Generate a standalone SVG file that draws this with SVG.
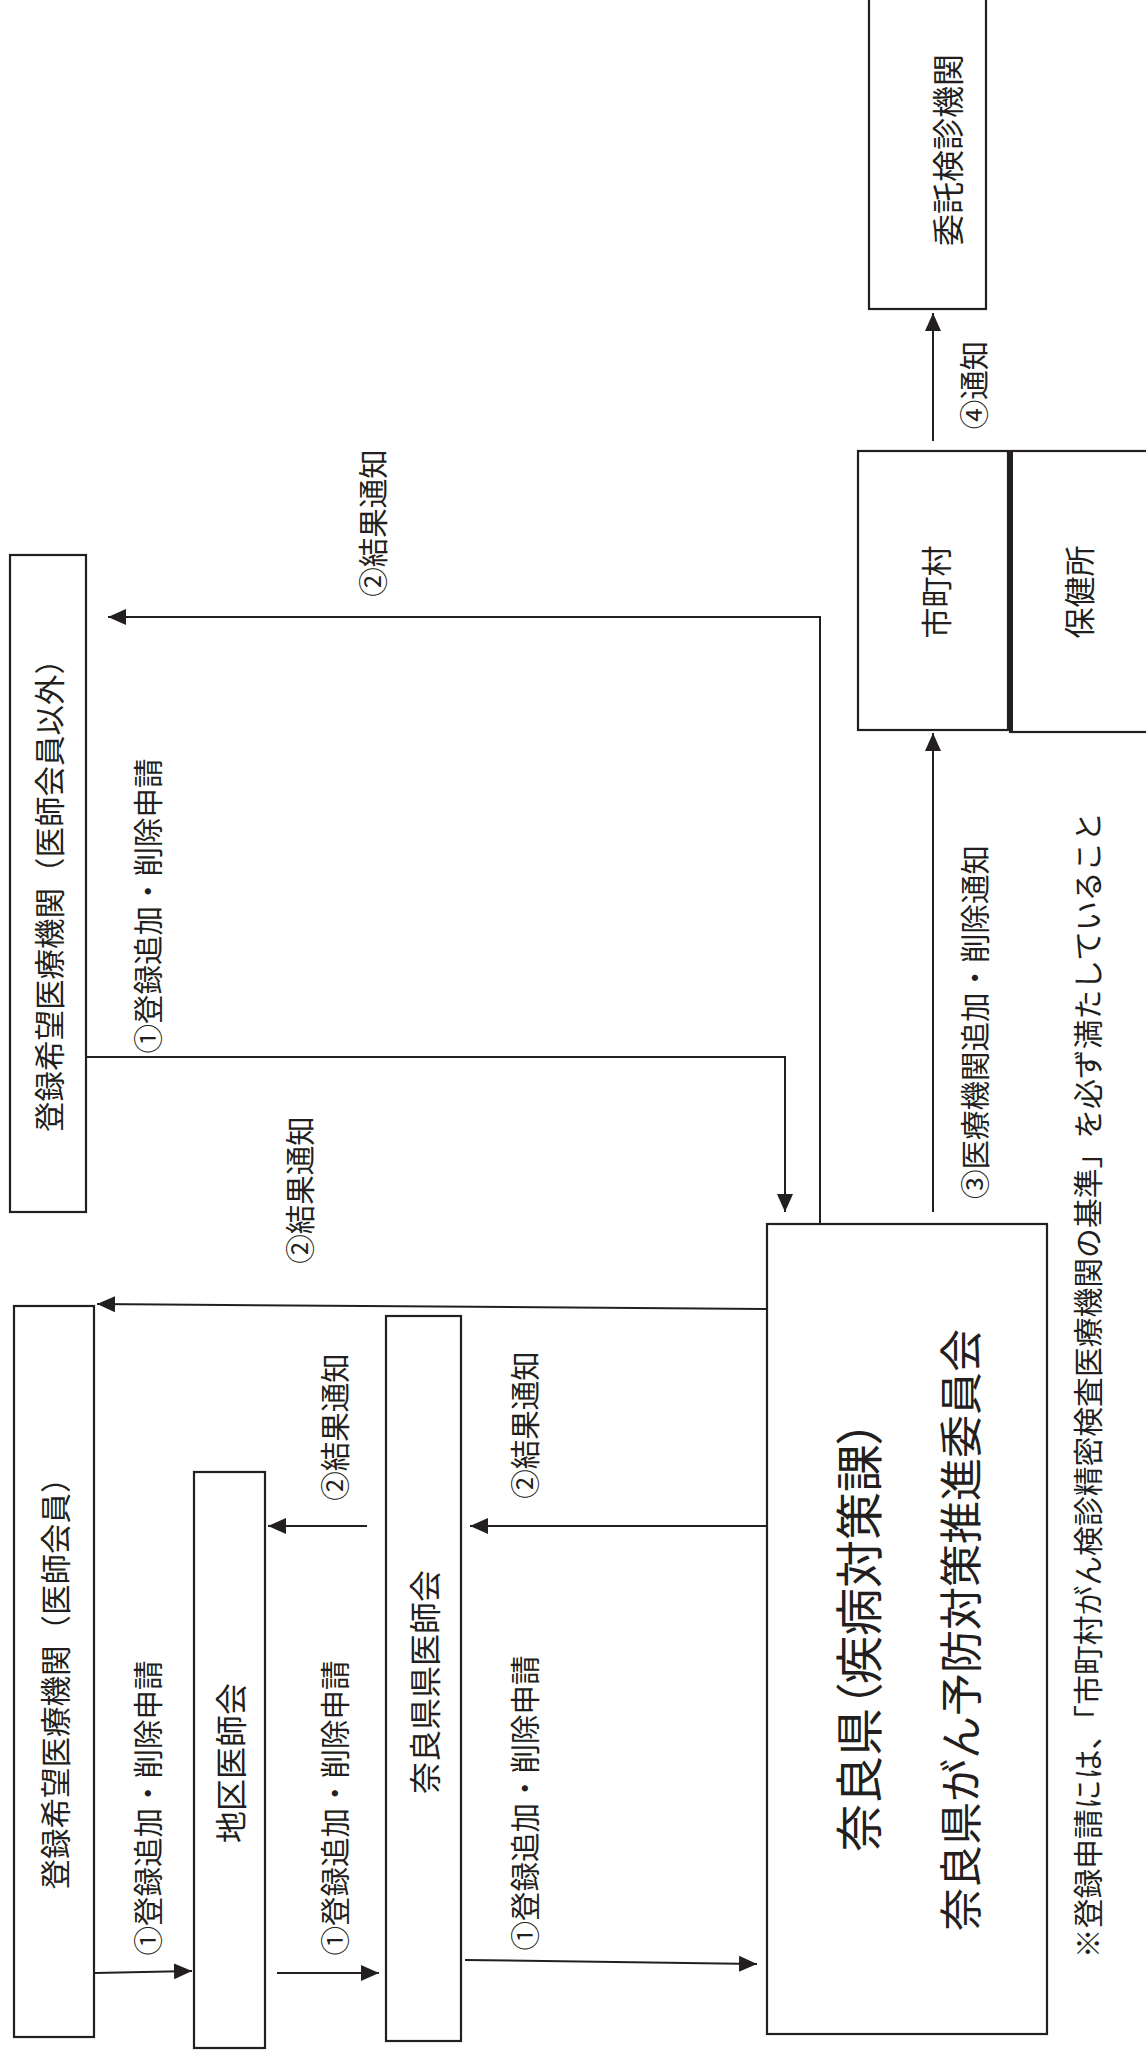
<svg xmlns="http://www.w3.org/2000/svg" width="1146" height="2058" viewBox="0 0 1146 2058">
<style>
.box{fill:#fff;stroke:#231f20;stroke-width:2.2}
.t{font-family:"Noto Sans CJK JP","Noto Sans CJK SC",sans-serif;fill:#231f20;text-anchor:middle;dominant-baseline:central}
.n{font-size:31px}
.l{font-size:29.5px}
.c{fill:none;stroke:#231f20;stroke-width:2}
</style>
<defs>
<marker id="ah" markerUnits="userSpaceOnUse" markerWidth="20" markerHeight="18" viewBox="0 -9 20 18" refX="18" refY="0" orient="auto">
<path d="M0,-8 L18,0 L0,8 Z" fill="#231f20"/>
</marker>
</defs>
<rect width="1146" height="2058" fill="#fff"/>

<g id="connectors">
<polyline class="c" points="86,1057 785,1057 785,1212" marker-end="url(#ah)"/>
<polyline class="c" points="820,1224 820,617 108,617" marker-end="url(#ah)"/>
<line class="c" x1="933" y1="1212" x2="933" y2="733" marker-end="url(#ah)"/>
<line class="c" x1="933" y1="441" x2="933" y2="313" marker-end="url(#ah)"/>
<line class="c" x1="767" y1="1309" x2="97" y2="1304" marker-end="url(#ah)"/>
<line class="c" x1="767" y1="1526" x2="470" y2="1526" marker-end="url(#ah)"/>
<line class="c" x1="367" y1="1526" x2="268" y2="1526" marker-end="url(#ah)"/>
<line class="c" x1="95" y1="1973" x2="192" y2="1971" marker-end="url(#ah)"/>
<line class="c" x1="277" y1="1973" x2="379" y2="1973" marker-end="url(#ah)"/>
<line class="c" x1="465" y1="1960" x2="757" y2="1964" marker-end="url(#ah)"/>
</g>

<g id="labels">
<text class="t l" transform="translate(146,906) rotate(-90)">①登録追加・削除申請</text>
<text class="t l" transform="translate(371,523) rotate(-90)">②結果通知</text>
<text class="t l" transform="translate(298,1190) rotate(-90)">②結果通知</text>
<text class="t l" transform="translate(973,1022) rotate(-90)">③医療機関追加・削除通知</text>
<text class="t l" transform="translate(972,385) rotate(-90)">④通知</text>
<text class="t l" transform="translate(146,1808) rotate(-90)">①登録追加・削除申請</text>
<text class="t l" transform="translate(333,1808) rotate(-90)">①登録追加・削除申請</text>
<text class="t l" transform="translate(523,1803) rotate(-90)">①登録追加・削除申請</text>
<text class="t l" transform="translate(333,1427) rotate(-90)">②結果通知</text>
<text class="t l" transform="translate(523,1425) rotate(-90)">②結果通知</text>
</g>

<g id="node-itaku">
<rect class="box" x="869" y="-10" width="117" height="319"/>
<text class="t" style="font-size:32px" transform="translate(946,150) rotate(-90)">委託検診機関</text>
</g>

<g id="node-shichoson">
<rect class="box" x="858" y="451" width="150" height="279"/>
<text class="t n" transform="translate(934,592) rotate(-90)">市町村</text>
</g>

<g id="node-hokenjo">
<rect class="box" x="1011" y="451" width="150" height="281" style="stroke-width:2.2"/>
<line x1="1011" y1="450" x2="1011" y2="733" stroke="#231f20" stroke-width="4"/>
<text class="t n" transform="translate(1077,592) rotate(-90)">保健所</text>
</g>

<g id="node-kibou-igai">
<rect class="box" x="10" y="555" width="76" height="657"/>
<text class="t" style="font-size:30.5px" transform="translate(48,888) rotate(-90)">登録希望医療機関（医師会員以外）</text>
</g>

<g id="node-kibou-kaiin">
<rect class="box" x="14" y="1306" width="80" height="731"/>
<text class="t" style="font-size:30.5px" transform="translate(54,1676) rotate(-90)">登録希望医療機関（医師会員）</text>
</g>

<g id="node-chiku">
<rect class="box" x="194" y="1472" width="71" height="576"/>
<text class="t" style="font-size:32px" transform="translate(229,1763) rotate(-90)">地区医師会</text>
</g>

<g id="node-ken-ishikai">
<rect class="box" x="386" y="1316" width="75" height="725"/>
<text class="t" style="font-size:32px" transform="translate(423,1682) rotate(-90)">奈良県県医師会</text>
</g>

<g id="node-narakken">
<rect class="box" x="767" y="1224" width="280" height="810"/>
<text class="t" style="font-size:48px;font-feature-settings:'palt'" transform="translate(856,1636) rotate(-90)">奈良県（疾病対策課）</text>
<text class="t" style="font-size:43px" transform="translate(958,1630) rotate(-90)">奈良県がん予防対策推進委員会</text>
</g>

<g id="note">
<text class="t" style="font-size:29.8px" transform="translate(1086,1385) rotate(-90)">※登録申請には、「市町村がん検診精密検査医療機関の基準」を必ず満たしていること</text>
</g>
</svg>
